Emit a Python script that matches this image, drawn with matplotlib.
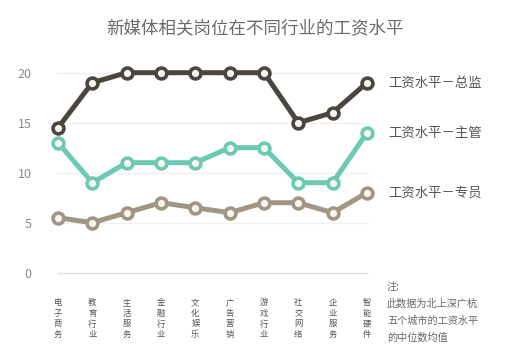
import matplotlib
matplotlib.use("Agg")
import matplotlib.pyplot as plt

plt.rcParams['font.family'] = ['Noto Sans CJK SC', 'DejaVu Sans']

title = "新媒体相关岗位在不同行业的工资水平"
categories = ["电子商务", "教育行业", "生活服务", "金融行业", "文化娱乐",
              "广告营销", "游戏行业", "社交网络", "企业服务", "智能硬件"]
series_names = ["工资水平－总监", "工资水平－主管", "工资水平－专员"]
director = [14.5, 19, 20, 20, 20, 20, 20, 15, 16, 19]
supervisor = [13, 9, 11, 11, 11, 12.5, 12.5, 9, 9, 14]
staff = [5.5, 5, 6, 7, 6.5, 6, 7, 7, 6, 8]
yticks = [0, 5, 10, 15, 20]
note_lines = ["注:", "此数据为北上深广杭", "五个城市的工资水平", "的中位数均值"]

colors = ["#4b4540", "#6cc9b4", "#a29584"]

fig = plt.figure(figsize=(5.2, 3.52), dpi=100)
W, H = 520, 352
x0, x9 = 58, 367
ppu = (x9 - x0) / 9
xl, xr = -0.6, 9.5
left_px = x0 + xl * ppu
right_px = x0 + xr * ppu
y0_px = 272.7
ylo, yhi = -1, 21.5
bottom_px = y0_px - ylo * 10
top_px = y0_px - yhi * 10
ax = fig.add_axes([left_px / W, 1 - bottom_px / H,
                   (right_px - left_px) / W, (bottom_px - top_px) / H])
ax.set_xlim(xl, xr)
ax.set_ylim(ylo, yhi)

x = list(range(len(categories)))
for v in yticks:
    ax.hlines(v, -0.03, 9.03, color="#dddddd" if v == 0 else "#f0f0f0",
              lw=1.0, zorder=1)

for vals, c in zip([director, supervisor, staff], colors):
    ax.plot(x, vals, color=c, lw=3.6, marker="o", ms=7.8, mew=2.6,
            mfc="#f8f4ef", mec=c, zorder=3, clip_on=False)

for name, vals, c in zip(series_names, [director, supervisor, staff], colors):
    ax.text(9.61, vals[-1], name, fontsize=9.6, color="#555555",
            ha="left", va="center")

ax.set_yticks(yticks)
ax.set_yticklabels([str(v) for v in yticks], fontsize=9, color="#888888")
ax.set_xticks(x)
ax.set_xticklabels(["\n".join(c) for c in categories], fontsize=6,
                   color="#555555", linespacing=1.25, va="top")
ax.tick_params(axis="y", length=0, pad=4)
ax.tick_params(axis="x", length=0, pad=11)
for s in ax.spines.values():
    s.set_visible(False)

fig.text(255 / W, 1 - 28 / H, title, fontsize=12.6, color="#6a6a6a",
         ha="center", va="center")

note_y = [287, 304, 321, 338]
for t, yy in zip(note_lines, note_y):
    fig.text(387 / W, 1 - yy / H, t, fontsize=7.3, color="#666666",
             ha="left", va="center")

fig.savefig("out.png", dpi=100, facecolor="white")
